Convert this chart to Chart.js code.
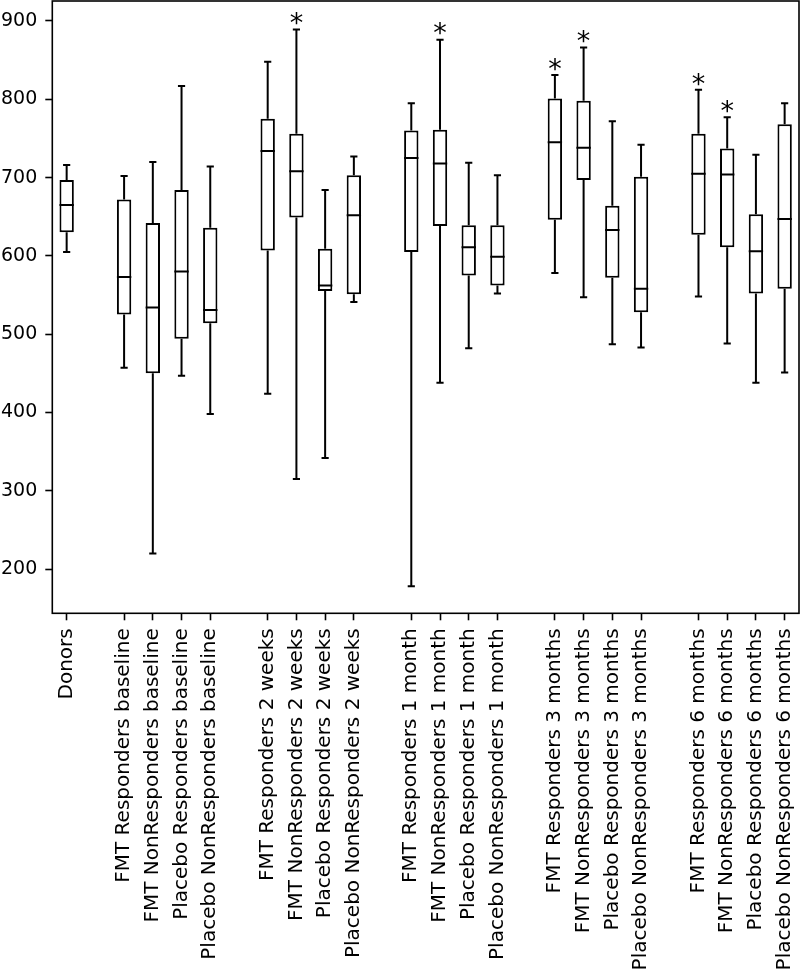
<!DOCTYPE html>
<html>
<head>
<meta charset="utf-8">
<style>
  html, body { margin: 0; padding: 0; background: #ffffff; }
  #c { display: block; }
</style>
<script src="https://cdn.jsdelivr.net/npm/chart.js@4.4.0/dist/chart.umd.min.js"></script>
</head>
<body>
<canvas id="c" width="800" height="977"></canvas>
<script>
// ---------------- data ----------------
const categories = [
  "Donors",
  "FMT Responders baseline", "FMT NonResponders baseline", "Placebo Responders baseline", "Placebo NonResponders baseline",
  "FMT Responders 2 weeks", "FMT NonResponders 2 weeks", "Placebo Responders 2 weeks", "Placebo NonResponders 2 weeks",
  "FMT Responders 1 month", "FMT NonResponders 1 month", "Placebo Responders 1 month", "Placebo NonResponders 1 month",
  "FMT Responders 3 months", "FMT NonResponders 3 months", "Placebo Responders 3 months", "Placebo NonResponders 3 months",
  "FMT Responders 6 months", "FMT NonResponders 6 months", "Placebo Responders 6 months", "Placebo NonResponders 6 months"
];
// number of boxes in each group (groups are separated by an empty slot)
const groupSizes = [1, 4, 4, 4, 4, 4];

const whiskerLow  = [605, 457, 220, 447, 398, 424, 315, 342, 541, 178, 438, 482, 552, 578, 547, 487, 483, 548, 488, 438, 451];
const q1          = [630, 525, 450, 494, 514, 607, 649, 555, 551, 605, 638, 575, 562, 646, 697, 572, 528, 627, 611, 552, 558];
const median      = [665, 573, 534, 580, 531, 734, 708, 562, 652, 725, 718, 611, 599, 745, 738, 633, 558, 705, 704, 606, 647];
const q3          = [697, 672, 642, 684, 636, 775, 756, 609, 703, 760, 761, 639, 639, 801, 798, 664, 701, 756, 737, 653, 768];
const whiskerHigh = [716, 702, 720, 817, 714, 848, 889, 684, 727, 795, 876, 719, 703, 831, 866, 772, 742, 812, 777, 729, 795];
const significant = [false, false, false, false, false, false, true, false, false, false, true, false, false,
                     true, true, false, false, true, true, false, false];

const yTicks = [200, 300, 400, 500, 600, 700, 800, 900];
const yMin = 143.5;
const yMax = 925.5;

// ---------------- build slots ----------------
const labels = [];
const slotIndex = [];
let k = 0;
groupSizes.forEach((n, g) => {
  if (g > 0) { labels.push(''); slotIndex.push(-1); }
  for (let i = 0; i < n; i++) { labels.push(categories[k]); slotIndex.push(k); k++; }
});
const boxData = slotIndex.map(i => (i < 0 ? null : [q1[i], q3[i]]));

const FONT = 'DejaVu Sans';
const LW = 2;

const boxPlugin = {
  id: 'boxParts',
  afterDatasetsDraw(chart) {
    const ctx = chart.ctx;
    const xs = chart.scales.x, ys = chart.scales.y;
    const meta = chart.getDatasetMeta(0);
    ctx.save();
    ctx.strokeStyle = '#000';
    ctx.lineWidth = LW;
    ctx.lineCap = 'butt';
    slotIndex.forEach((i, slot) => {
      if (i < 0) return;
      const bar = meta.data[slot];
      const cx = xs.getPixelForValue(slot);
      const half = bar.width / 2;
      const capHalf = half / 2;
      const yLo = ys.getPixelForValue(whiskerLow[i]);
      const yQ1 = ys.getPixelForValue(q1[i]);
      const yMed = ys.getPixelForValue(median[i]);
      const yQ3 = ys.getPixelForValue(q3[i]);
      const yHi = ys.getPixelForValue(whiskerHigh[i]);
      ctx.beginPath();
      // whiskers
      ctx.moveTo(cx, yQ1); ctx.lineTo(cx, yLo);
      ctx.moveTo(cx, yQ3); ctx.lineTo(cx, yHi);
      // caps
      ctx.moveTo(cx - capHalf, yLo); ctx.lineTo(cx + capHalf, yLo);
      ctx.moveTo(cx - capHalf, yHi); ctx.lineTo(cx + capHalf, yHi);
      // median
      ctx.moveTo(cx - half, yMed); ctx.lineTo(cx + half, yMed);
      ctx.stroke();
      if (significant[i]) {
        ctx.fillStyle = '#000';
        ctx.font = '27px "' + FONT + '"';
        ctx.textAlign = 'center';
        ctx.textBaseline = 'alphabetic';
        const m = ctx.measureText('*');
        const baseline = yHi - 4.3 - m.actualBoundingBoxDescent;
        ctx.fillText('*', cx, baseline);
      }
    });
    // frame
    const a = chart.chartArea;
    ctx.lineWidth = 1.6;
    ctx.strokeRect(a.left, a.top, a.right - a.left, a.bottom - a.top);
    ctx.restore();
  }
};

new Chart(document.getElementById('c'), {
  type: 'bar',
  data: {
    labels: labels,
    datasets: [{
      data: boxData,
      backgroundColor: '#ffffff',
      borderColor: '#000000',
      borderWidth: LW,
      borderSkipped: false,
      barPercentage: 0.5,
      categoryPercentage: 1.0
    }]
  },
  options: {
    responsive: false,
    animation: false,
    devicePixelRatio: 1,
    layout: { padding: { top: 1, right: 1, left: 0, bottom: 0 } },
    plugins: { legend: { display: false }, tooltip: { enabled: false } },
    scales: {
      x: {
        type: 'category',
        offset: true,
        border: { display: false },
        grid: {
          offset: false,
          drawOnChartArea: false,
          drawTicks: true,
          tickLength: 7,
          tickWidth: 1.6,
          tickColor: (c) => (labels[c.index] ? '#000000' : 'rgba(0,0,0,0)')
        },
        ticks: {
          autoSkip: false,
          minRotation: 90,
          maxRotation: 90,
          padding: 8,
          color: '#000000',
          font: { family: FONT, size: 20 }
        },
        afterFit(s) { s.height = 363.7; s.paddingLeft = 0; s.paddingRight = 0; }
      },
      y: {
        min: yMin,
        max: yMax,
        border: { display: false },
        afterBuildTicks(s) { s.ticks = yTicks.map(v => ({ value: v })); },
        grid: {
          drawOnChartArea: false,
          drawTicks: true,
          tickLength: 7,
          tickWidth: 1.6,
          tickColor: '#000000'
        },
        ticks: {
          padding: 8,
          color: '#000000',
          font: { family: FONT, size: 19 }
        },
        afterFit(s) { s.width = 52.3; s.paddingTop = 0; s.paddingBottom = 0; }
      }
    }
  },
  plugins: [boxPlugin]
});
</script>
</body>
</html>
